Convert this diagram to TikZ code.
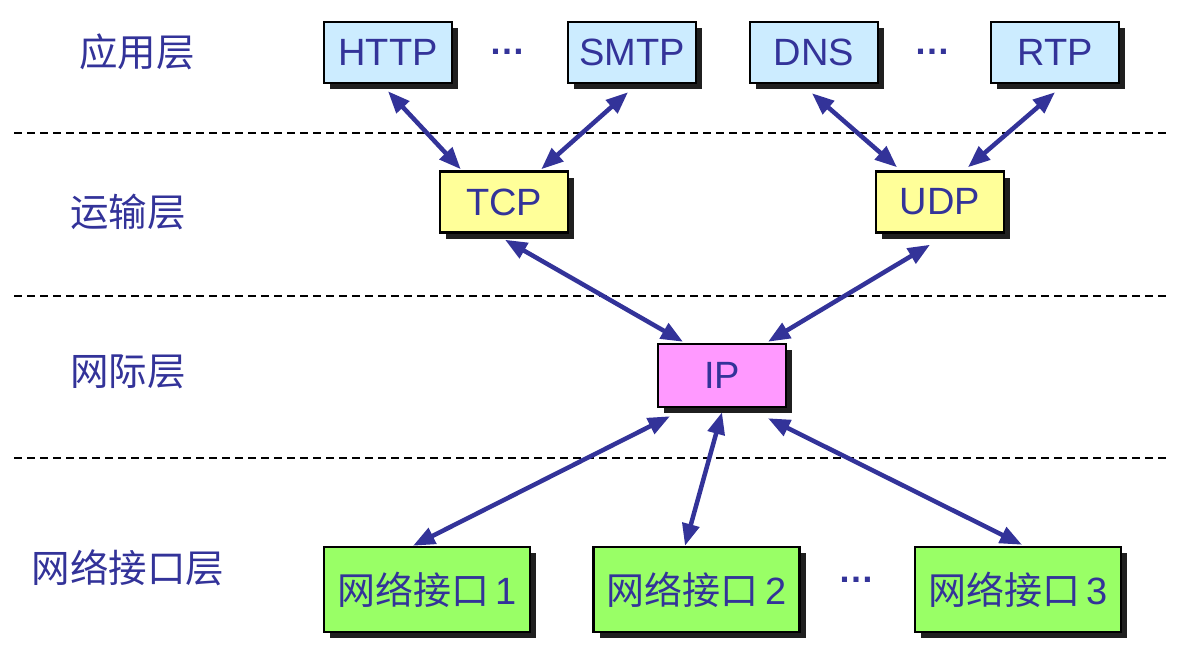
\documentclass[tikz,border=0pt]{standalone}
\usepackage{fontspec}
\setmainfont{Liberation Sans}
\newfontfamily\cjk{Noto Sans CJK SC}
\usetikzlibrary{arrows.meta,shadows,calc}
\definecolor{tx}{HTML}{333399}
\definecolor{appc}{HTML}{CCECFF}
\definecolor{trc}{HTML}{FFFF99}
\definecolor{ipc}{HTML}{FF99FF}
\definecolor{nic}{HTML}{99FF66}
\begin{document}
\begin{tikzpicture}[x=1pt,y=-1pt,
  box/.style={draw=black,line width=2.5pt,text=tx,inner sep=0pt,
    minimum width=128pt,minimum height=61pt,
    font=\fontsize{38}{44}\selectfont,
    drop shadow={shadow xshift=6pt,shadow yshift=-6pt,fill=black!88,opacity=1}},
  app/.style={box,fill=appc},
  tra/.style={box,fill=trc},
  net/.style={box,fill=ipc,minimum height=63pt},
  nif/.style={box,fill=nic,minimum width=206pt,minimum height=85pt},
  layer/.style={text=tx,font=\cjk\fontsize{38.5}{44}\selectfont,inner sep=0pt},
  dots/.style={text=tx,font=\bfseries\fontsize{36}{44}\selectfont,inner sep=0pt},
  sep/.style={dashed,dash pattern=on 8pt off 5pt,line width=2pt,black},
  link/.style={line width=4.5pt,tx,{Triangle[length=22pt,width=17pt]}-{Triangle[length=22pt,width=17pt]}}]
\useasboundingbox (0,0) rectangle (1201,667);
% layer separators
\coordinate (s1a) at (14,133); \coordinate (s1b) at (1168,133);
\coordinate (s2a) at (14,296); \coordinate (s2b) at (1168,296);
\coordinate (s3a) at (14,458); \coordinate (s3b) at (1168,458);
\draw[sep] (s1a) -- (s1b);
\draw[sep] (s2a) -- (s2b);
\draw[sep] (s3a) -- (s3b);
% layer labels
\node[layer] (l1) at (137,52) {应用层};
\node[layer] (l2) at (128,212) {运输层};
\node[layer] (l3) at (128,372) {网际层};
\node[layer] (l4) at (128,568) {网络接口层};
% application
\node[dots] (d1) at (507,52) {…};
\node[app] (http) at (388,52.5) {HTTP};
\node[app] (smtp) at (632,52.5) {SMTP};
\node[app] (dns) at (814,52.5) {DNS};
\node[dots] (d2) at (932,52) {…};
\node[app] (rtp) at (1055,52.5) {RTP};
% transport
\node[tra] (tcp) at (504,202) {TCP};
\node[tra] (udp) at (940,202) {UDP};
% internet
\node[net] (ip) at (722,375.5) {IP};
% network interface
\node[nif] (n1) at (427,589.5) {{\cjk 网络接口}\,1};
\node[nif] (n2) at (696.5,589.5) {{\cjk 网络接口}\,2};
\node[dots] (d3) at (856,580) {…};
\node[nif] (n3) at (1018,589.5) {{\cjk 网络接口}\,3};
% links
\draw[link] ($(http.south)+(0,7)$) -- ($(tcp.north west)+(22,-1)$);
\draw[link] ($(smtp.south)+(-4,8)$) -- ($(tcp.north east)+(-28,-1)$);
\draw[link] ($(dns.south)+(-2,9)$) -- ($(udp.north)+(-43,-3)$);
\draw[link] ($(rtp.south)+(0,8)$) -- ($(udp.north)+(28,-3)$);
\draw[link] ($(tcp.south)+(1,6)$) -- ($(ip.north)+(-39,-1)$);
\draw[link] ($(udp.south)+(-10,11)$) -- ($(ip.north)+(46,-1)$);
\draw[link] ($(ip.south)+(-52,8)$) -- ($(n1.north)+(-14,0)$);
\draw[link] ($(ip.south)+(0,4)$) -- ($(n2.north)+(-11.5,0)$);
\draw[link] ($(ip.south)+(46,10)$) -- ($(n3.north)+(4,-1)$);
\end{tikzpicture}
\end{document}
